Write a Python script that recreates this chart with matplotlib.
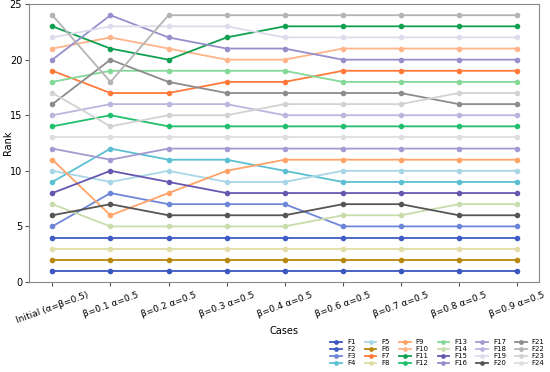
import matplotlib
matplotlib.use("Agg")
import matplotlib.pyplot as plt

cases = ["Initial (α=β=0.5)", "β=0.1 α=0.5", "β=0.2 α=0.5", "β=0.3 α=0.5",
         "β=0.4 α=0.5", "β=0.6 α=0.5", "β=0.7 α=0.5", "β=0.8 α=0.5", "β=0.9 α=0.5"]

F1 = [1, 1, 1, 1, 1, 1, 1, 1, 1]
F2 = [4, 4, 4, 4, 4, 4, 4, 4, 4]
F3 = [5, 8, 7, 7, 7, 5, 5, 5, 5]
F4 = [9, 12, 11, 11, 10, 9, 9, 9, 9]
F5 = [10, 9, 10, 9, 9, 10, 10, 10, 10]
F6 = [2, 2, 2, 2, 2, 2, 2, 2, 2]
F7 = [19, 17, 17, 18, 18, 19, 19, 19, 19]
F8 = [3, 3, 3, 3, 3, 3, 3, 3, 3]
F9 = [11, 6, 8, 10, 11, 11, 11, 11, 11]
F10 = [21, 22, 21, 20, 20, 21, 21, 21, 21]
F11 = [23, 21, 20, 22, 23, 23, 23, 23, 23]
F12 = [14, 15, 14, 14, 14, 14, 14, 14, 14]
F13 = [18, 19, 19, 19, 19, 18, 18, 18, 18]
F14 = [7, 5, 5, 5, 5, 6, 6, 7, 7]
F15 = [8, 10, 9, 8, 8, 8, 8, 8, 8]
F16 = [20, 24, 22, 21, 21, 20, 20, 20, 20]
F17 = [12, 11, 12, 12, 12, 12, 12, 12, 12]
F18 = [15, 16, 16, 16, 15, 15, 15, 15, 15]
F19 = [22, 23, 23, 23, 22, 22, 22, 22, 22]
F20 = [6, 7, 6, 6, 6, 7, 7, 6, 6]
F21 = [16, 20, 18, 17, 17, 17, 17, 16, 16]
F22 = [24, 18, 24, 24, 24, 24, 24, 24, 24]
F23 = [17, 14, 15, 15, 16, 16, 16, 17, 17]
F24 = [13, 13, 13, 13, 13, 13, 13, 13, 13]

names = [f"F{i}" for i in range(1, 25)]
series = [F1, F2, F3, F4, F5, F6, F7, F8, F9, F10, F11, F12,
          F13, F14, F15, F16, F17, F18, F19, F20, F21, F22, F23, F24]
colors = ["#3a56c0", "#3f5cc4", "#6e86d8", "#5cc0d2", "#a9d6e6", "#b8860b",
          "#ff7a3a", "#e2dda6", "#ffa468", "#ffb48a", "#10a050", "#22c06e",
          "#84d898", "#c8dcac", "#6658b0", "#978fcc", "#a39bd2", "#bab6de",
          "#dcdcec", "#555555", "#8c8c8c", "#b4b4b4", "#d2d2d2", "#dedede"]

fig = plt.figure(figsize=(5.5, 3.72), dpi=100)
ax = fig.add_axes([0.053, 0.242, 0.927, 0.747])
x = list(range(len(cases)))
for name, vals, c in zip(names, series, colors):
    ax.plot(x, vals, marker="o", markersize=3, linewidth=1.3, color=c, label=name)

ax.set_ylim(0, 25)
ax.set_xlim(-0.4, 8.38)
ax.set_yticks([0, 5, 10, 15, 20, 25])
ax.set_xticks(x)
ax.set_xticklabels(cases, rotation=20, ha="center", fontsize=6.5)
ax.tick_params(axis="y", labelsize=7, length=3, color="#555555", pad=2)
ax.tick_params(axis="x", length=3, color="#555555", pad=3)
for s in ax.spines.values():
    s.set_color("#888888")
ax.set_ylabel("Rank", fontsize=7)
ax.yaxis.set_label_coords(-0.031, 0.5)
ax.set_xlabel("Cases", fontsize=7, labelpad=1)

fig.legend(loc="lower right", bbox_to_anchor=(1.0, 0.0), ncol=6, fontsize=5,
           frameon=False, handlelength=1.7, columnspacing=1.3, labelspacing=0.15,
           handletextpad=0.7, markerscale=0.8, borderpad=0.3)

fig.savefig("out.png", dpi=100)
